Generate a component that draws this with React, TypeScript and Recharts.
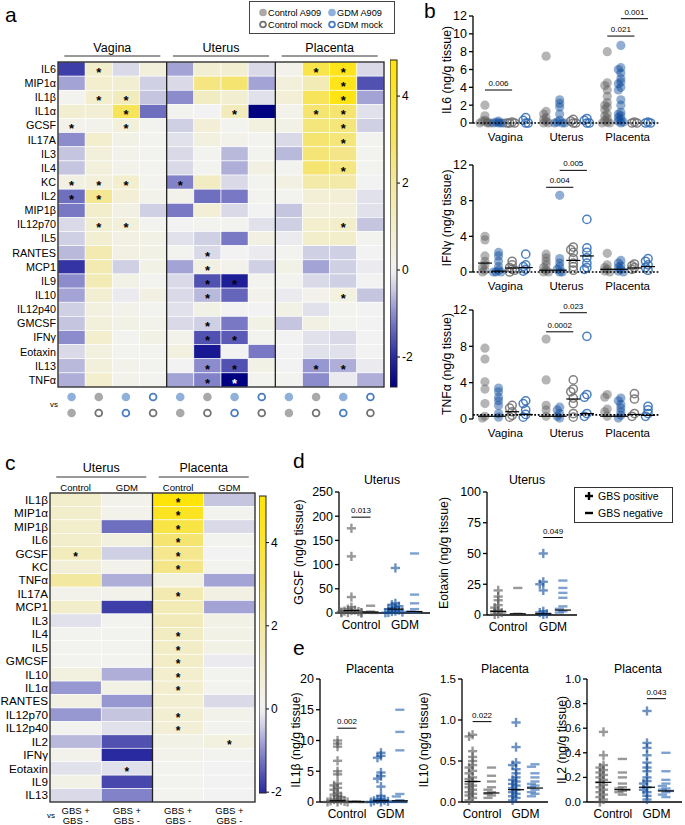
import React from 'react';
import { ScatterChart, Scatter, XAxis, YAxis } from 'recharts';

const FONT = '"Liberation Sans", Arial, Helvetica, sans-serif';

// ---------------- Panel a data ----------------
const ROWS_A = ['IL6', 'MIP1α', 'IL1β', 'IL1α', 'GCSF', 'IL17A', 'IL3', 'IL4', 'KC', 'IL2', 'MIP1β', 'IL12p70', 'IL5', 'RANTES', 'MCP1', 'IL9', 'IL10', 'IL12p40', 'GMCSF', 'IFNγ', 'Eotaxin', 'IL13', 'TNFα'];
const GROUPS_A = ['Vagina', 'Uterus', 'Placenta'];
const VALUES_A = [
  [-1.8, 1.0, -0.3, 0.6, -0.8, 0.8, 0.8, -0.3, 0.2, 3.5, 4.5, -0.3],
  [-0.8, 0.9, 0.8, -0.4, -0.3, 2.5, 2.8, -0.8, 0.6, 1.5, 4.5, -1.6],
  [0.1, 0.9, 1.3, -0.5, -1.0, 1.2, 0.8, -0.2, 0.7, 3.2, 4.6, -0.8],
  [0.8, 0.7, 3.2, -1.3, 0.1, 0.0, 1.3, -2.7, 0.2, 2.8, 2.8, -0.2],
  [0.2, 0.2, 0.6, 0.1, -0.4, 0.7, 0.1, 0.5, 0.3, 2.6, 2.6, -0.4],
  [-1.0, 0.9, 0.3, 0.1, -0.2, 0.5, 0.2, 0.1, -0.3, 2.8, 2.6, 0.1],
  [-0.5, 0.6, 0.2, 0.1, -0.3, 0.1, -0.6, 0.1, -0.6, 2.7, 2.4, 0.1],
  [-0.5, 0.6, 0.2, 0.1, -0.3, 0.1, -0.7, 0.4, 0.1, 2.8, 2.5, 0.1],
  [0.4, 0.6, 0.9, 0.1, -1.1, 1.2, -0.3, 0.1, 0.4, 1.8, 1.8, 0.0],
  [-1.3, 2.2, 0.7, 0.2, 0.2, -1.3, -1.2, 0.1, 0.1, 0.7, 0.7, -0.2],
  [-1.2, 1.0, 0.4, -0.4, -1.2, 0.7, -0.3, 0.0, -0.5, 0.6, 0.6, -0.2],
  [-0.3, 0.8, 0.6, 0.1, 0.0, 0.1, 0.1, -0.2, -0.4, 0.9, 1.0, -0.5],
  [-0.4, 0.8, 0.4, 0.3, -0.2, -0.4, -1.2, 0.4, -0.1, 1.0, 1.0, 0.1],
  [-0.6, 1.6, 0.4, 0.3, 0.1, -0.3, 0.0, -0.1, 0.1, -0.4, -0.4, 0.0],
  [-1.9, 1.6, -0.4, 0.3, -0.8, 0.4, 0.2, -0.4, 0.3, -0.8, -0.4, -0.1],
  [-1.0, 1.5, 0.3, 0.1, -0.3, -1.6, -2.2, 0.1, 0.1, -0.3, -0.4, 0.0],
  [-0.8, 0.8, -0.1, 0.4, -0.3, -0.6, -1.4, 0.2, -0.1, 0.2, 0.5, -0.5],
  [-0.4, 0.5, 0.2, 0.1, -0.2, 0.3, 0.0, 0.0, 0.3, -0.2, 0.1, 0.0],
  [-0.5, 0.6, 0.3, 0.2, -0.3, -0.4, -1.2, 0.3, -0.5, 0.4, 0.1, 0.0],
  [-1.0, 0.9, 0.1, 0.3, 0.2, -1.6, -1.5, 0.1, 0.0, -0.2, -0.3, 0.0],
  [-0.3, 0.5, 0.1, 0.1, 0.5, -2.3, 0.0, -1.2, 0.0, -0.2, -0.2, 0.0],
  [-0.6, 0.6, 0.2, 0.1, 0.0, -1.0, -1.6, 0.3, 0.0, -0.9, -0.7, -0.1],
  [-0.7, 0.9, 0.2, 0.1, -0.8, -1.1, -2.7, 0.1, 0.1, -1.0, -0.1, -0.7],
];
const STARS_A = [
  '010000000110', '000000000010', '011000000010', '001000100110', '101000000010', '000000000010',
  '000000000000', '000000000010', '111010000000', '110000000000', '000000000000', '011000000010',
  '000000000000', '000001000000', '000001000000', '000001100000', '000001000010', '000000000000',
  '000001000000', '000001100000', '000000000000', '000001100110', '000001100000',
];
const CMP_TOP_A = ['GA', 'CA', 'GA', 'GM'];
const CMP_BOT_A = ['CA', 'CM', 'GM', 'CM'];
const LEGEND_A = [
  { key: 'CA', label: 'Control A909' },
  { key: 'GA', label: 'GDM A909' },
  { key: 'CM', label: 'Control mock' },
  { key: 'GM', label: 'GDM mock' },
];
const CBAR_TICKS = [-2, 0, 2, 4];

// ---------------- Panel c data ----------------
const ROWS_C = ['IL1β', 'MIP1α', 'MIP1β', 'IL6', 'GCSF', 'KC', 'TNFα', 'IL17A', 'MCP1', 'IL3', 'IL4', 'IL5', 'GMCSF', 'IL10', 'IL1α', 'RANTES', 'IL12p70', 'IL12p40', 'IL2', 'IFNγ', 'Eotaxin', 'IL9', 'IL13'];
const GROUPS_C = ['Uterus', 'Placenta'];
const SUBS_C = ['Control', 'GDM', 'Control', 'GDM'];
const VALUES_C = [
  [1.0, 0.2, 5.0, -0.5],
  [1.0, 0.2, 4.3, 0.1],
  [1.0, -1.3, 3.6, -0.3],
  [1.0, 0.5, 2.8, 0.1],
  [1.3, -0.4, 2.3, 0.0],
  [0.7, 0.2, 2.4, 0.1],
  [2.0, -0.7, 0.5, -0.8],
  [0.2, 0.2, 1.6, 0.4],
  [1.0, -1.8, 1.5, -0.8],
  [-0.2, 0.1, 1.4, 0.3],
  [0.1, 0.1, 1.2, 0.3],
  [0.1, 0.1, 1.1, 0.3],
  [0.1, 0.1, 1.1, -0.1],
  [0.5, -0.7, 0.9, 0.1],
  [-0.9, 0.3, 0.9, 0.1],
  [0.4, -0.9, 0.8, -0.3],
  [-0.9, -0.5, 0.8, 0.2],
  [0.1, -0.2, 0.7, 0.1],
  [-0.6, -1.6, 0.3, 0.5],
  [0.2, -2.0, 0.2, 0.1],
  [-0.2, -0.2, 0.1, 0.0],
  [0.3, -1.7, 0.1, 0.0],
  [-0.3, -1.1, 0.1, 0.0],
];
const STARS_C = [
  '0010', '0010', '0010', '0010', '1010', '0010', '0000', '0010', '0000', '0000', '0010', '0010',
  '0010', '0010', '0010', '0000', '0010', '0010', '0001', '0000', '0100', '0000', '0000',
];

// ---------------- Panel b data ----------------
const B_TISSUES = ['Vagina', 'Uterus', 'Placenta'];
const B_BASE = [0, 4.5, 9];
const B_KINDS = ['CA', 'GA', 'CM', 'GM'];
const B_YTICKS = [0, 2, 4, 6, 8, 10, 12];
const B_YTICKS4 = [0, 4, 8, 12];

const IL6_DATA = [
  [[2.0, 0.8, 0.3, 0.2, 0.1, 0, 0, 0], [0.2, 0.1, 0, 0, 0, 0], [0.1, 0, 0, 0], [0.6, 0.3, 0, 0]],
  [[7.5, 1.3, 1.0, 0.6, 0.4, 0.2, 0, 0], [2.6, 2.2, 1.8, 1.0, 0.3, 0.1, 0, 0, 0], [0.4, 0.2, 0, 0], [0.5, 0.3, 0, 0]],
  [[8.0, 4.5, 4.2, 3.7, 3.0, 2.3, 2.0, 1.8, 1.5, 1.0, 0.8, 0.5, 0.3, 0.1, 0, 0], [8.7, 6.2, 6.0, 5.6, 5.0, 4.6, 4.4, 4.0, 3.7, 2.6, 2.0, 1.2, 1.0, 0.8, 0.6, 0.4, 0.2, 0.1, 0], [0.1, 0, 0], [0.1, 0, 0]],
];
const IL6_SIG = [
  { t: 0, s1: 0, s2: 2, y: 3.7, p: '0.006' },
  { t: 2, s1: 0, s2: 2, y: 9.75, p: '0.021' },
  { t: 2, s1: 1, s2: 3, y: 11.7, p: '0.001' },
];
const IFN_DATA = [
  [[4.0, 3.6, 1.8, 1.2, 0.8, 0.5, 0.2, 0], [2.2, 1.8, 1.2, 0.6, 0.2, 0, 0, 0], [1.2, 0.8, 0.5, 0.3, 0.2, 0], [2.0, 0.8, 0.6, 0.3, 0.1]],
  [[2.0, 1.6, 1.2, 0.8, 0.5, 0.2, 0, 0], [8.6, 1.5, 1.0, 0.6, 0.3, 0, 0], [2.8, 2.5, 2.2, 1.5, 1.0, 0.6, 0.2], [5.9, 2.7, 2.2, 1.6, 1.0, 0.5, 0.3]],
  [[2.1, 0.8, 0.5, 0.3, 0.1, 0], [1.3, 1.0, 0.7, 0.5, 0.3, 0.1, 0], [0.9, 0.7, 0.5, 0.3], [1.5, 1.2, 0.8, 0.5, 0.2]],
];
const IFN_MED = [[1.0, 0.1, 0.45, 0.5], [0.2, 0.2, 1.3, 1.8], [0.3, 0.3, 0.45, 0.6]];
const IFN_SIG = [
  { t: 1, s1: 0, s2: 2, y: 9.5, p: '0.004' },
  { t: 1, s1: 1, s2: 3, y: 11.4, p: '0.005' },
];
const TNF_DATA = [
  [[7.8, 6.6, 4.1, 3.3, 1.7, 0.3, 0.1], [3.4, 3.0, 2.4, 2.0, 1.5, 0.6, 0.2], [1.5, 1.2, 0.8, 0.4, 0.2], [2.0, 1.7, 1.0, 0.5, 0.2]],
  [[8.8, 4.3, 1.5, 1.0, 0.3], [1.3, 1.0, 0.6, 0.3, 0.1], [4.3, 3.3, 3.0, 2.3, 1.7, 0.6, 0.2], [9.1, 2.7, 2.4, 0.6, 0.3]],
  [[2.7, 2.4, 1.1, 0.8, 0.3], [2.3, 2.0, 1.6, 1.2, 0.8, 0.4, 0.1], [2.8, 2.2, 0.6, 0.3], [1.4, 1.0, 0.6, 0.3]],
];
const TNF_MED = [[0.3, 0.3, 0.8, 0.5], [0.3, 0.3, 2.2, 0.6], [0.3, 0.3, 0.5, 0.4]];
const TNF_SIG = [
  { t: 1, s1: 0, s2: 2, y: 9.6, p: '0.0002' },
  { t: 1, s1: 1, s2: 3, y: 11.7, p: '0.023' },
];

// ---------------- Panels d / e data ----------------
const D_X = [0, 1, 2.3, 3.3];
const D_KINDS = ['C+', 'C-', 'G+', 'G-'];
const D_CATS = ['Control', 'GDM'];
const D_CAT_X = [0.5, 2.8];

const GCSF_DATA = [
  [175, 117, 33, 12, 8, 6, 5, 4, 3, 2, 1, 1, 0.5, 0],
  [15, 3, 1, 0],
  [93, 20, 17, 14, 12, 10, 8, 6, 4, 3, 2, 1, 0.5],
  [123, 38, 20, 8, 3, 1],
];
const GCSF_MED = [5, 2, 8, 3];
const GCSF_SIG = [{ s1: 0, s2: 1, y: 198, p: '0.013' }];
const GCSF_TICKS = [0, 50, 100, 150, 200, 250];

const EOT_DATA = [
  [20, 15, 12, 8, 6, 4, 3, 2, 1, 0.5],
  [22, 1],
  [50, 27, 25, 20, 3, 2, 1, 0.5],
  [28, 22, 18, 14, 7, 5, 3, 2],
];
const EOT_MED = [3, 1, 1, 4];
const EOT_SIG = [{ s1: 2, s2: 3, y: 63, p: '0.049' }];
const EOT_TICKS = [0, 25, 50, 75, 100];

const IL1B_DATA = [
  [10, 9.5, 9, 6.7, 5, 4.5, 3, 2.7, 2.3, 2, 1.5, 1.2, 1, 0.8, 0.5, 0.4, 0.3, 0.2, 0.1, 0, 0, 0],
  [0.1, 0.05, 0, 0, 0],
  [8, 7.5, 7.2, 4.8, 4.2, 3.8, 2.5, 1, 0.5, 0.4, 0.3, 0.2, 0.1, 0, 0],
  [15, 11.4, 8.4, 1.3, 0.9, 0.3, 0.1, 0, 0],
];
const IL1B_MED = [0.2, 0.05, 0.2, 0.2];
const IL1B_SIG = [{ s1: 0, s2: 1, y: 12, p: '0.002' }];
const IL1B_TICKS = [0, 5, 10, 15, 20];

const IL10_DATA = [
  [0.82, 0.8, 0.62, 0.55, 0.5, 0.45, 0.42, 0.38, 0.35, 0.3, 0.28, 0.25, 0.22, 0.2, 0.18, 0.15, 0.12, 0.1, 0.08, 0.05, 0.02],
  [0.42, 0.32, 0.25, 0.18, 0.15, 0.12, 0.1, 0.08, 0.05],
  [0.97, 0.67, 0.48, 0.45, 0.4, 0.35, 0.3, 0.27, 0.25, 0.22, 0.2, 0.17, 0.15, 0.12, 0.1, 0.07, 0.05, 0.02],
  [0.46, 0.43, 0.35, 0.3, 0.25, 0.22, 0.2, 0.18, 0.15, 0.12, 0.1, 0.07],
];
const IL10_MED = [0.25, 0.11, 0.15, 0.17];
const IL10_SIG = [{ s1: 0, s2: 1, y: 0.98, p: '0.022' }];
const IL10_TICKS = [0, 0.5, 1.0, 1.5];

const IL2_DATA = [
  [0.57, 0.38, 0.3, 0.28, 0.26, 0.24, 0.22, 0.2, 0.18, 0.16, 0.14, 0.12, 0.1, 0.08, 0.06, 0.04, 0.02, 0],
  [0.35, 0.24, 0.2, 0.15, 0.12, 0.11, 0.1, 0.09, 0.08, 0.06],
  [0.74, 0.48, 0.44, 0.38, 0.32, 0.28, 0.25, 0.2, 0.17, 0.15, 0.12, 0.1, 0.08, 0.05, 0.02],
  [0.4, 0.25, 0.18, 0.15, 0.13, 0.11, 0.1, 0.09, 0.08, 0.06, 0.04],
];
const IL2_MED = [0.16, 0.1, 0.12, 0.09];
const IL2_SIG = [{ s1: 2, s2: 3, y: 0.84, p: '0.043' }];
const IL2_TICKS = [0, 0.2, 0.4, 0.6, 0.8, 1.0];

// ---------------- colour scale ----------------
const CSTOPS: [number, number[]][] = [
  [-2.7, [0, 0, 128]],
  [-2.0, [42, 42, 160]],
  [-1.0, [140, 140, 205]],
  [-0.4, [208, 208, 228]],
  [0, [242, 242, 242]],
  [1, [242, 237, 202]],
  [2, [243, 232, 160]],
  [3, [246, 228, 100]],
  [4.8, [255, 228, 10]],
];
function rgb(c: number[]) {
  return `rgb(${Math.round(c[0])},${Math.round(c[1])},${Math.round(c[2])})`;
}
function heatColor(v: number): string {
  if (v <= CSTOPS[0][0]) return rgb(CSTOPS[0][1]);
  for (let i = 1; i < CSTOPS.length; i++) {
    if (v <= CSTOPS[i][0]) {
      const t = (v - CSTOPS[i - 1][0]) / (CSTOPS[i][0] - CSTOPS[i - 1][0]);
      const a = CSTOPS[i - 1][1];
      const b = CSTOPS[i][1];
      return rgb([a[0] + (b[0] - a[0]) * t, a[1] + (b[1] - a[1]) * t, a[2] + (b[2] - a[2]) * t]);
    }
  }
  return rgb(CSTOPS[CSTOPS.length - 1][1]);
}

function Gradient({ id, min, max }: { id: string; min: number; max: number }) {
  const offs = Array.from({ length: 41 }, (_, i) => i / 40);
  return (
    <linearGradient id={id} x1="0" y1="0" x2="0" y2="1">
      {offs.map((o) => (
        <stop key={o} offset={o} stopColor={heatColor(max - (max - min) * o)} />
      ))}
    </linearGradient>
  );
}

// ---------------- icons ----------------
function CmpIcon({ kind, cx, cy, r }: { kind: string; cx: number; cy: number; r: number }) {
  const control = kind[0] === 'C';
  if (kind[1] === 'A') {
    return <circle cx={cx} cy={cy} r={r} fill={control ? '#a9a9a9' : '#8fb0da'} />;
  }
  return <circle cx={cx} cy={cy} r={r - 0.9} fill="none" stroke={control ? '#727272' : '#4a7cc0'} strokeWidth={1.8} />;
}

// ---------------- Heatmap ----------------
type HeatCfg = {
  left: number; top: number; yAxisW: number; plotW: number; plotH: number; topH: number; bottomH: number;
  rows: string[]; values: number[][]; stars: string[]; rowFont: number; starFont: number;
  groups: { x: number; label: string }[]; groupHalf: number; groupFont: number; groupTextDy: number; groupLineDy: number;
  subHeaders?: string[]; subFont?: number; subDy?: number;
  separators: number[];
  bottomShape: (p: any) => React.ReactElement;
};

function Heatmap({ cfg }: { cfg: HeatCfg }) {
  const nR = cfg.rows.length;
  const nC = cfg.values[0].length;
  const cw = cfg.plotW / nC;
  const ch = cfg.plotH / nR;
  const cells = cfg.values.flatMap((row, r) => row.map((v, c) => ({ x: c, y: r, v, star: cfg.stars[r][c] === '1' })));
  const cellShape = (p: any) => (
    <g>
      <rect x={p.cx - cw / 2} y={p.cy - ch / 2} width={cw} height={ch} fill={heatColor(p.payload.v)} stroke="#ffffff" strokeWidth={0.6} />
      {p.payload.star ? (
        <text x={p.cx} y={p.cy + cfg.starFont * 0.6} textAnchor="middle" fontSize={cfg.starFont} fontWeight="bold" fontFamily={FONT} fill={p.payload.v < -2.2 ? '#fff' : '#000'}>*</text>
      ) : null}
    </g>
  );
  const sepShape = (p: any) => <line x1={p.cx} x2={p.cx} y1={p.cy - cfg.plotH / 2} y2={p.cy + cfg.plotH / 2} stroke="#222" strokeWidth={1.3} />;
  const frameShape = (p: any) => <rect x={p.cx - cfg.plotW / 2} y={p.cy - cfg.plotH / 2} width={cfg.plotW} height={cfg.plotH} fill="none" stroke="#222" strokeWidth={1.3} />;
  const groupShape = (p: any) => (
    <g>
      <text x={p.cx} y={p.cy - cfg.groupTextDy} textAnchor="middle" fontSize={cfg.groupFont} fontFamily={FONT} fill="#000">{p.payload.label}</text>
      <line x1={p.cx - cfg.groupHalf} x2={p.cx + cfg.groupHalf} y1={p.cy - cfg.groupLineDy} y2={p.cy - cfg.groupLineDy} stroke="#333" strokeWidth={1} />
    </g>
  );
  const subShape = (p: any) => (
    <text x={p.cx} y={p.cy - (cfg.subDy || 0)} textAnchor="middle" fontSize={cfg.subFont} fontFamily={FONT} fill="#000">{p.payload.label}</text>
  );
  const groupData = cfg.groups.map((g) => ({ x: g.x, y: -0.5, label: g.label }));
  const subData = (cfg.subHeaders || []).map((s, i) => ({ x: i, y: -0.5, label: s }));
  const bottomData = Array.from({ length: nC }, (_, c) => ({ x: c, y: nR - 0.5, col: c }));
  return (
    <div style={{ position: 'absolute', left: cfg.left, top: cfg.top }}>
      <ScatterChart width={cfg.yAxisW + cfg.plotW + 1} height={cfg.topH + cfg.plotH + cfg.bottomH} margin={{ top: cfg.topH, right: 1, bottom: cfg.bottomH, left: 0 }}>
        <XAxis type="number" dataKey="x" domain={[-0.5, nC - 0.5]} hide />
        <YAxis
          type="number"
          dataKey="y"
          domain={[-0.5, nR - 0.5]}
          reversed
          ticks={cfg.rows.map((_, i) => i)}
          interval={0}
          tickFormatter={(i: number) => cfg.rows[i]}
          width={cfg.yAxisW}
          axisLine={false}
          tickLine={false}
          tickSize={0}
          tickMargin={2}
          tick={{ fontSize: cfg.rowFont, fill: '#000', fontFamily: FONT }}
        />
        <Scatter data={cells} shape={cellShape} isAnimationActive={false} />
        <Scatter data={cfg.separators.map((x) => ({ x, y: (nR - 1) / 2 }))} shape={sepShape} isAnimationActive={false} />
        <Scatter data={[{ x: (nC - 1) / 2, y: (nR - 1) / 2 }]} shape={frameShape} isAnimationActive={false} />
        <Scatter data={groupData} shape={groupShape} isAnimationActive={false} />
        {cfg.subHeaders ? <Scatter data={subData} shape={subShape} isAnimationActive={false} /> : null}
        <Scatter data={bottomData} shape={cfg.bottomShape} isAnimationActive={false} />
      </ScatterChart>
    </div>
  );
}

function ColorBar({ left, top, barW, barH, min, max, gradId }: { left: number; top: number; barW: number; barH: number; min: number; max: number; gradId: string }) {
  const pad = 9;
  const barShape = (p: any) => (
    <rect x={p.cx - barW / 2} y={p.cy - barH / 2} width={barW} height={barH} fill={`url(#${gradId})`} stroke="#222" strokeWidth={1} />
  );
  return (
    <div style={{ position: 'absolute', left, top: top - pad }}>
      <ScatterChart width={barW + 24} height={barH + 2 * pad} margin={{ top: pad, right: 0, bottom: pad, left: 0 }}>
        <XAxis type="number" dataKey="x" domain={[0, 1]} hide />
        <YAxis
          type="number"
          dataKey="y"
          orientation="right"
          domain={[min, max]}
          ticks={CBAR_TICKS}
          interval={0}
          width={24}
          axisLine={false}
          tickLine={{ stroke: '#000', strokeWidth: 1 }}
          tickSize={3}
          tickMargin={2}
          tick={{ fontSize: 12, fill: '#000', fontFamily: FONT }}
        />
        <Scatter data={[{ x: 0.5, y: (min + max) / 2 }]} shape={barShape} isAnimationActive={false} />
      </ScatterChart>
    </div>
  );
}

// ---------------- Strip plots ----------------
type Ser = { kind: string; x: number; values: number[] };
type Sig = { x1: number; x2: number; y: number; p: string };
type StripCfg = {
  plot: { x0: number; x1: number; y0: number; y1: number };
  yAxisW: number; xDomain: [number, number]; yDomain: [number, number]; yTicks: number[]; yDec?: number;
  xTicks: number[]; xLabels: string[]; xAxisLine: boolean; tickFont: number; catFont: number; catMargin: number;
  series: Ser[]; medians: { x: number; y: number }[]; sigs: Sig[]; dotted?: number; medianW: number;
  offsets: number[]; minSep: number;
};

const MARKS: Record<string, { type: string; color: string }> = {
  CA: { type: 'dot', color: '#5a5a5a' },
  GA: { type: 'dot', color: '#0a4a9b' },
  CM: { type: 'ring', color: '#6c6c6c' },
  GM: { type: 'ring', color: '#2e6ab3' },
  'C+': { type: 'plus', color: '#555555' },
  'C-': { type: 'minus', color: '#555555' },
  'G+': { type: 'plus', color: '#0d4a9a' },
  'G-': { type: 'minus', color: '#2a66b0' },
};

function swarm(s: Ser, pxY: number, minSep: number, offsets: number[]) {
  const sorted = [...s.values].sort((a, b) => b - a);
  const placed: { v: number; slot: number }[] = [];
  return sorted.map((v) => {
    const used = new Set(placed.filter((p) => Math.abs(p.v - v) * pxY < minSep).map((p) => p.slot));
    let slot = 0;
    while (used.has(slot) && slot < offsets.length - 1) slot++;
    if (used.has(slot)) slot = placed.length % offsets.length;
    placed.push({ v, slot });
    return { x: s.x, y: v, dx: offsets[slot] };
  });
}

function markShape(kind: string) {
  const st = MARKS[kind];
  return (p: any) => {
    const cx = p.cx + (p.payload && p.payload.dx ? p.payload.dx : 0);
    const cy = p.cy;
    if (st.type === 'dot') return <circle cx={cx} cy={cy} r={4.6} fill={st.color} fillOpacity={0.45} />;
    if (st.type === 'ring') return <circle cx={cx} cy={cy} r={4.1} fill="none" stroke={st.color} strokeWidth={1.5} strokeOpacity={0.85} />;
    if (st.type === 'plus')
      return (
        <g opacity={0.6} stroke={st.color} strokeWidth={2.4}>
          <line x1={cx - 4.6} x2={cx + 4.6} y1={cy} y2={cy} />
          <line x1={cx} x2={cx} y1={cy - 4.6} y2={cy + 4.6} />
        </g>
      );
    return <line x1={cx - 4.6} x2={cx + 4.6} y1={cy} y2={cy} stroke={st.color} strokeWidth={2.4} opacity={0.6} />;
  };
}

function StripPlot({ cfg }: { cfg: StripCfg }) {
  const mTop = 16;
  const mRight = 3;
  const xAxisH = 24;
  const plotW = cfg.plot.x1 - cfg.plot.x0;
  const plotH = cfg.plot.y1 - cfg.plot.y0;
  const pxX = plotW / (cfg.xDomain[1] - cfg.xDomain[0]);
  const pxY = plotH / (cfg.yDomain[1] - cfg.yDomain[0]);
  const midX = (cfg.xDomain[0] + cfg.xDomain[1]) / 2;
  const sigData = cfg.sigs.map((s) => ({ x: (s.x1 + s.x2) / 2, y: s.y, w: s.x2 - s.x1, p: s.p }));
  const sigShape = (p: any) => (
    <g>
      <line x1={p.cx - (p.payload.w * pxX) / 2} x2={p.cx + (p.payload.w * pxX) / 2} y1={p.cy} y2={p.cy} stroke="#000" strokeWidth={1} />
      <text x={p.cx} y={p.cy - 4} textAnchor="middle" fontSize={8} fontFamily={FONT} fill="#000">{p.payload.p}</text>
    </g>
  );
  const medShape = (p: any) => <line x1={p.cx - cfg.medianW / 2} x2={p.cx + cfg.medianW / 2} y1={p.cy} y2={p.cy} stroke="#000" strokeWidth={1.2} />;
  const dotShape = (p: any) => <line x1={p.cx - plotW / 2} x2={p.cx + plotW / 2} y1={p.cy} y2={p.cy} stroke="#000" strokeWidth={1.6} strokeDasharray="1.8 1.8" />;
  const fmt = (v: number) => (cfg.yDec ? v.toFixed(cfg.yDec) : String(v));
  return (
    <div style={{ position: 'absolute', left: cfg.plot.x0 - cfg.yAxisW, top: cfg.plot.y0 - mTop }}>
      <ScatterChart width={cfg.yAxisW + plotW + mRight} height={mTop + plotH + xAxisH} margin={{ top: mTop, right: mRight, bottom: 0, left: 0 }}>
        <XAxis
          type="number"
          dataKey="x"
          domain={cfg.xDomain}
          ticks={cfg.xTicks}
          interval={0}
          tickFormatter={(v: number) => cfg.xLabels[cfg.xTicks.indexOf(v)]}
          axisLine={cfg.xAxisLine ? { stroke: '#000', strokeWidth: 1.3 } : false}
          tickLine={false}
          tickSize={0}
          tickMargin={cfg.catMargin}
          height={xAxisH}
          tick={{ fontSize: cfg.catFont, fill: '#000', fontFamily: FONT }}
        />
        <YAxis
          type="number"
          dataKey="y"
          domain={cfg.yDomain}
          ticks={cfg.yTicks}
          interval={0}
          tickFormatter={fmt}
          width={cfg.yAxisW}
          axisLine={{ stroke: '#000', strokeWidth: 1.3 }}
          tickLine={{ stroke: '#000', strokeWidth: 1.3 }}
          tickSize={4}
          tickMargin={2}
          tick={{ fontSize: cfg.tickFont, fill: '#000', fontFamily: FONT }}
        />
        {cfg.series.map((s, i) => (
          <Scatter key={i} data={swarm(s, pxY, cfg.minSep, cfg.offsets)} shape={markShape(s.kind)} isAnimationActive={false} />
        ))}
        {cfg.dotted !== undefined ? <Scatter data={[{ x: midX, y: cfg.dotted }]} shape={dotShape} isAnimationActive={false} /> : null}
        <Scatter data={cfg.medians} shape={medShape} isAnimationActive={false} />
        <Scatter data={sigData} shape={sigShape} isAnimationActive={false} />
      </ScatterChart>
    </div>
  );
}

// ---------------- builders ----------------
function bSeries(data: number[][][]): Ser[] {
  return data.flatMap((tissue, t) => tissue.map((values, k) => ({ kind: B_KINDS[k], x: B_BASE[t] + k, values })));
}
function bMedians(meds: number[][]) {
  return meds.flatMap((m, t) => m.map((y, k) => ({ x: B_BASE[t] + k, y })));
}
function bSigs(s: { t: number; s1: number; s2: number; y: number; p: string }[]): Sig[] {
  return s.map((q) => ({ x1: B_BASE[q.t] + q.s1, x2: B_BASE[q.t] + q.s2, y: q.y, p: q.p }));
}
function dSeries(data: number[][]): Ser[] {
  return data.map((values, k) => ({ kind: D_KINDS[k], x: D_X[k], values }));
}
function dMedians(meds: number[]) {
  return meds.map((y, k) => ({ x: D_X[k], y }));
}
function dSigs(s: { s1: number; s2: number; y: number; p: string }[]): Sig[] {
  return s.map((q) => ({ x1: D_X[q.s1], x2: D_X[q.s2], y: q.y, p: q.p }));
}

const B_COMMON = {
  yAxisW: 53,
  xDomain: [-0.88, 12.88] as [number, number],
  yDomain: [0, 12] as [number, number],
  xTicks: [1.5, 6, 10.5],
  xLabels: B_TISSUES,
  xAxisLine: false,
  tickFont: 12.5,
  catFont: 11.5,
  catMargin: 10,
  medianW: 14,
  offsets: [0, -2.5, 2.5, -5, 5],
  minSep: 3,
};
const D_COMMON = {
  xTicks: D_CAT_X,
  xLabels: D_CATS,
  xAxisLine: true,
  tickFont: 12.5,
  catFont: 12,
  catMargin: 7,
  medianW: 16,
  offsets: [0, -3.5, 3.5, -7, 7, -10, 10],
  minSep: 3,
};

export default function App() {
  const A_MIN = -2.69;
  const A_MAX = 4.83;
  const C_MIN = -2.02;
  const C_MAX = 5.12;

  const heatA: HeatCfg = {
    left: 0, top: 38, yAxisW: 58, plotW: 326, plotH: 325, topH: 24, bottomH: 34,
    rows: ROWS_A, values: VALUES_A, stars: STARS_A, rowFont: 10.8, starFont: 13,
    groups: GROUPS_A.map((label, i) => ({ x: i * 4 + 1.5, label })), groupHalf: 48, groupFont: 12.5, groupTextDy: 10, groupLineDy: 6,
    separators: [3.5, 7.5],
    bottomShape: (p: any) => (
      <g>
        <CmpIcon kind={CMP_TOP_A[p.payload.col % 4]} cx={p.cx} cy={p.cy + 10} r={4.3} />
        <CmpIcon kind={CMP_BOT_A[p.payload.col % 4]} cx={p.cx} cy={p.cy + 26} r={4.3} />
      </g>
    ),
  };
  const heatC: HeatCfg = {
    left: 0, top: 460, yAxisW: 50, plotW: 205, plotH: 309, topH: 33, bottomH: 23,
    rows: ROWS_C, values: VALUES_C, stars: STARS_C, rowFont: 11.7, starFont: 12,
    groups: GROUPS_C.map((label, i) => ({ x: i * 2 + 0.5, label })), groupHalf: 45, groupFont: 12.5, groupTextDy: 21, groupLineDy: 16,
    subHeaders: SUBS_C, subFont: 9.5, subDy: 2.5,
    separators: [1.5],
    bottomShape: (p: any) => (
      <g>
        <text x={p.cx} y={p.cy + 11.5} textAnchor="middle" fontSize={9.5} fontFamily={FONT} fill="#000">GBS +</text>
        <text x={p.cx} y={p.cy + 22} textAnchor="middle" fontSize={9.5} fontFamily={FONT} fill="#000">GBS -</text>
      </g>
    ),
  };

  const b1: StripCfg = { ...B_COMMON, plot: { x0: 473, x1: 660, y0: 16, y1: 123 }, yTicks: B_YTICKS, series: bSeries(IL6_DATA), medians: [], sigs: bSigs(IL6_SIG), dotted: 0 };
  const b2: StripCfg = { ...B_COMMON, plot: { x0: 473, x1: 660, y0: 165, y1: 272 }, yTicks: B_YTICKS4, series: bSeries(IFN_DATA), medians: bMedians(IFN_MED), sigs: bSigs(IFN_SIG), dotted: 0 };
  const b3: StripCfg = { ...B_COMMON, plot: { x0: 473, x1: 660, y0: 310, y1: 419 }, yTicks: B_YTICKS4, series: bSeries(TNF_DATA), medians: bMedians(TNF_MED), sigs: bSigs(TNF_SIG), dotted: 0.45 };

  const d1: StripCfg = { ...D_COMMON, plot: { x0: 339, x1: 430, y0: 492, y1: 613 }, yAxisW: 49, xDomain: [-0.65, 4.11], yDomain: [0, 250], yTicks: GCSF_TICKS, series: dSeries(GCSF_DATA), medians: dMedians(GCSF_MED), sigs: dSigs(GCSF_SIG) };
  const d2: StripCfg = { ...D_COMMON, plot: { x0: 487, x1: 577, y0: 492, y1: 615 }, yAxisW: 51, xDomain: [-0.57, 4.02], yDomain: [0, 100], yTicks: EOT_TICKS, series: dSeries(EOT_DATA), medians: dMedians(EOT_MED), sigs: dSigs(EOT_SIG) };
  const e1: StripCfg = { ...D_COMMON, plot: { x0: 320, x1: 407, y0: 679, y1: 802 }, yAxisW: 33, xDomain: [-0.93, 3.68], yDomain: [0, 20], yTicks: IL1B_TICKS, series: dSeries(IL1B_DATA), medians: dMedians(IL1B_MED), sigs: dSigs(IL1B_SIG) };
  const e2: StripCfg = { ...D_COMMON, plot: { x0: 462, x1: 548, y0: 679, y1: 802 }, yAxisW: 46, tickFont: 11.5, xDomain: [-0.56, 3.99], yDomain: [0, 1.5], yTicks: IL10_TICKS, yDec: 1, series: dSeries(IL10_DATA), medians: dMedians(IL10_MED), sigs: dSigs(IL10_SIG) };
  const e3: StripCfg = { ...D_COMMON, plot: { x0: 587, x1: 682, y0: 679, y1: 802 }, yAxisW: 32, tickFont: 11.5, xDomain: [-0.87, 4.15], yDomain: [0, 1.0], yTicks: IL2_TICKS, yDec: 1, series: dSeries(IL2_DATA), medians: dMedians(IL2_MED), sigs: dSigs(IL2_SIG) };

  const yLabels = [
    { x: 447, y: 70, t: 'IL6 (ng/g tissue)' },
    { x: 447, y: 218, t: 'IFNγ (ng/g tissue)' },
    { x: 447, y: 364, t: 'TNFα (ng/g tissue)' },
    { x: 299, y: 552, t: 'GCSF (ng/g tissue)' },
    { x: 444, y: 553, t: 'Eotaxin (ng/g tissue)' },
    { x: 296, y: 740, t: 'IL1β (ng/g tissue)' },
    { x: 424, y: 740, t: 'IL10 (ng/g tissue)' },
    { x: 562, y: 740, t: 'IL2 (ng/g tissue)' },
  ];
  const titles = [
    { x: 382, y: 484, t: 'Uterus' },
    { x: 527, y: 484, t: 'Uterus' },
    { x: 370, y: 673, t: 'Placenta' },
    { x: 505, y: 673, t: 'Placenta' },
    { x: 638, y: 673, t: 'Placenta' },
  ];
  const panelLabels = [
    { x: 5, y: 22, t: 'a' },
    { x: 424, y: 18, t: 'b' },
    { x: 5, y: 470, t: 'c' },
    { x: 293, y: 468, t: 'd' },
    { x: 293, y: 655, t: 'e' },
  ];

  return (
    <div style={{ position: 'absolute', left: 0, top: 0, width: 685, height: 825, background: '#fff', overflow: 'hidden', fontFamily: FONT }}>
      <svg width={0} height={0} style={{ position: 'absolute' }}>
        <defs>
          <Gradient id="gradA" min={A_MIN} max={A_MAX} />
          <Gradient id="gradC" min={C_MIN} max={C_MAX} />
        </defs>
      </svg>

      <Heatmap cfg={heatA} />
      <ColorBar left={390} top={60} barW={7} barH={327} min={A_MIN} max={A_MAX} gradId="gradA" />
      <Heatmap cfg={heatC} />
      <ColorBar left={259} top={496} barW={7} barH={297} min={C_MIN} max={C_MAX} gradId="gradC" />

      <StripPlot cfg={b1} />
      <StripPlot cfg={b2} />
      <StripPlot cfg={b3} />
      <StripPlot cfg={d1} />
      <StripPlot cfg={d2} />
      <StripPlot cfg={e1} />
      <StripPlot cfg={e2} />
      <StripPlot cfg={e3} />

      <svg width={685} height={825} style={{ position: 'absolute', left: 0, top: 0, pointerEvents: 'none' }} fontFamily={FONT}>
        {panelLabels.map((l) => (
          <text key={l.t} x={l.x} y={l.y} fontSize={21} fill="#000">{l.t}</text>
        ))}
        {yLabels.map((l) => (
          <text key={l.t} x={l.x} y={l.y} transform={`rotate(-90 ${l.x} ${l.y})`} textAnchor="middle" dominantBaseline="central" fontSize={12.3} fill="#000">{l.t}</text>
        ))}
        {titles.map((l, i) => (
          <text key={i} x={l.x} y={l.y} textAnchor="middle" fontSize={12.3} fill="#000">{l.t}</text>
        ))}
        <text x={54} y={407} textAnchor="middle" fontSize={8} fill="#000">vs</text>
        <text x={51} y={818} textAnchor="middle" fontSize={8} fill="#000">vs</text>

        <rect x={249.5} y={1.5} width={145} height={32} fill="#fff" stroke="#444" strokeWidth={1} />
        {LEGEND_A.map((it, i) => {
          const cx = i % 2 === 0 ? 263 : 332;
          const cy = i < 2 ? 12.5 : 24.5;
          return (
            <g key={it.key}>
              <CmpIcon kind={it.key} cx={cx} cy={cy} r={3.8} />
              <text x={cx + 5} y={cy + 3.3} fontSize={9.2} fill="#000">{it.label}</text>
            </g>
          );
        })}

        <rect x={574.5} y={487.5} width={98} height={35} fill="#fff" stroke="#333" strokeWidth={1} />
        <g stroke="#000" strokeWidth={2.4}>
          <line x1={585} x2={593} y1={496} y2={496} />
          <line x1={589} x2={589} y1={492} y2={500} />
          <line x1={585} x2={593} y1={513} y2={513} />
        </g>
        <text x={598} y={500} fontSize={10.5} fill="#000">GBS positive</text>
        <text x={598} y={517} fontSize={10.5} fill="#000">GBS negative</text>
      </svg>
    </div>
  );
}
